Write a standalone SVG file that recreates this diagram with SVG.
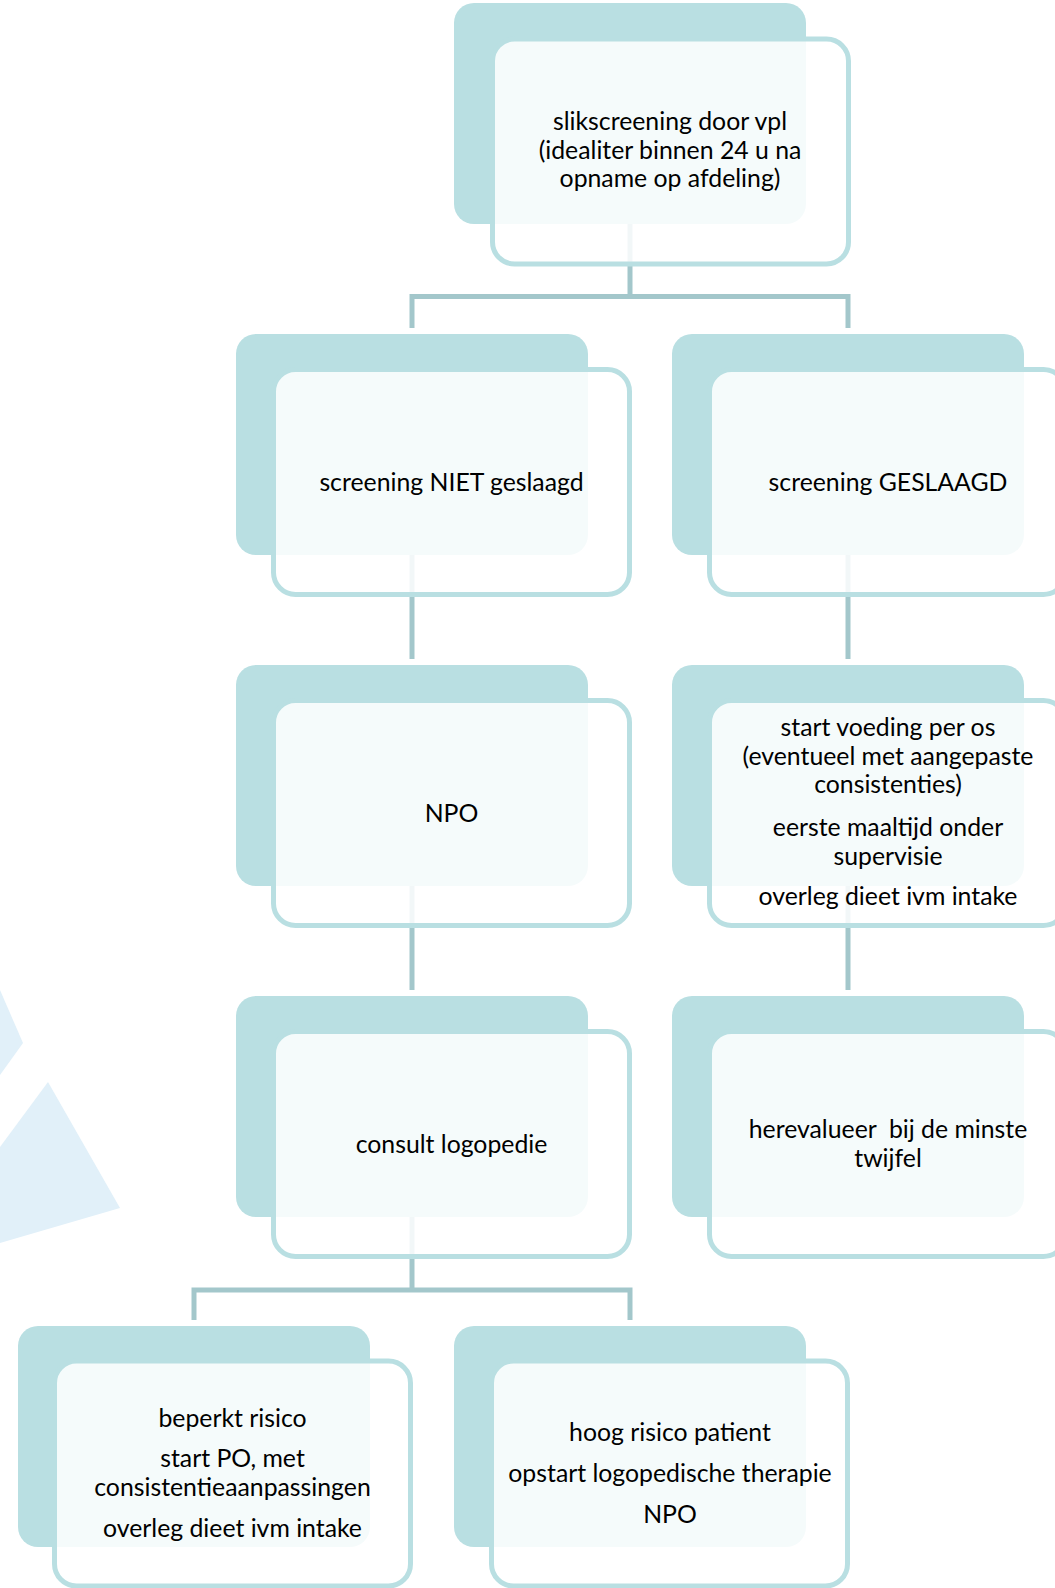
<svg xmlns="http://www.w3.org/2000/svg" width="1055" height="1588" viewBox="0 0 1055 1588">
<style>
.bg{fill:#E1F0F9}
.back{fill:#B9DFE2}
.front{fill:#FFFFFF;fill-opacity:0.86;stroke:#B9DFE2;stroke-width:5}
.conn{fill:none;stroke:#A3C7CB;stroke-width:5;stroke-linejoin:miter}
.t{font-family:Lato,"Liberation Sans",sans-serif;font-size:24.8px;fill:#000;text-anchor:middle}
</style>
<rect width="1055" height="1588" fill="#FFFFFF"/>
<polygon class="bg" points="0,990 23,1043 0,1075"/>
<polygon class="bg" points="48,1082 120,1208 0,1243 0,1147"/>
<g id="connectors">
<path class="conn" d="M630,224 V296.5 M412,328 V296.5 H848 V328"/>
<path class="conn" d="M412,555 V659 M848,555 V659"/>
<path class="conn" d="M412,886 V990 M848,886 V990"/>
<path class="conn" d="M412,1217 V1290 M194,1320 V1290 H630 V1320"/>
</g>
<g id="n1">
<rect class="back" x="454" y="3" width="352" height="221" rx="20"/>
<rect class="front" x="492.5" y="39" width="356" height="225" rx="22"/>
<text class="t" x="670" y="129.5">slikscreening door vpl</text>
<text class="t" x="670" y="158.5">(idealiter binnen 24 u na</text>
<text class="t" x="670" y="186.5">opname op afdeling)</text>
</g>
<g id="n2">
<rect class="back" x="236" y="334" width="352" height="221" rx="20"/>
<rect class="front" x="273.5" y="369.5" width="356" height="225" rx="22"/>
<text class="t" x="451.5" y="491">screening NIET geslaagd</text>
</g>
<g id="n3">
<rect class="back" x="672" y="334" width="352" height="221" rx="20"/>
<rect class="front" x="709.5" y="369.5" width="356" height="225" rx="22"/>
<text class="t" x="888" y="491">screening GESLAAGD</text>
</g>
<g id="n4">
<rect class="back" x="236" y="665" width="352" height="221" rx="20"/>
<rect class="front" x="273.5" y="700.5" width="356" height="225" rx="22"/>
<text class="t" x="451.5" y="822">NPO</text>
</g>
<g id="n5">
<rect class="back" x="672" y="665" width="352" height="221" rx="20"/>
<rect class="front" x="709.5" y="700.5" width="356" height="225" rx="22"/>
<text class="t" x="888" y="736">start voeding per os</text>
<text class="t" x="888" y="764.5">(eventueel met aangepaste</text>
<text class="t" x="888" y="793">consistenties)</text>
<text class="t" x="888" y="836">eerste maaltijd onder</text>
<text class="t" x="888" y="864.5">supervisie</text>
<text class="t" x="888" y="905">overleg dieet ivm intake</text>
</g>
<g id="n6">
<rect class="back" x="236" y="996" width="352" height="221" rx="20"/>
<rect class="front" x="273.5" y="1031.5" width="356" height="225" rx="22"/>
<text class="t" x="451.5" y="1153">consult logopedie</text>
</g>
<g id="n7">
<rect class="back" x="672" y="996" width="352" height="221" rx="20"/>
<rect class="front" x="709.5" y="1031.5" width="356" height="225" rx="22"/>
<text class="t" x="888" y="1138" xml:space="preserve">herevalueer  bij de minste</text>
<text class="t" x="888" y="1167">twijfel</text>
</g>
<g id="n8">
<rect class="back" x="18" y="1326" width="352" height="221" rx="20"/>
<rect class="front" x="54.5" y="1361" width="356" height="225" rx="22"/>
<text class="t" x="232.5" y="1427">beperkt risico</text>
<text class="t" x="232.5" y="1467">start PO, met</text>
<text class="t" x="232.5" y="1496">consistentieaanpassingen</text>
<text class="t" x="232.5" y="1537">overleg dieet ivm intake</text>
</g>
<g id="n9">
<rect class="back" x="454" y="1326" width="352" height="221" rx="20"/>
<rect class="front" x="491.5" y="1361" width="356" height="225" rx="22"/>
<text class="t" x="670" y="1441">hoog risico patient</text>
<text class="t" x="670" y="1482">opstart logopedische therapie</text>
<text class="t" x="670" y="1523">NPO</text>
</g>
</svg>
